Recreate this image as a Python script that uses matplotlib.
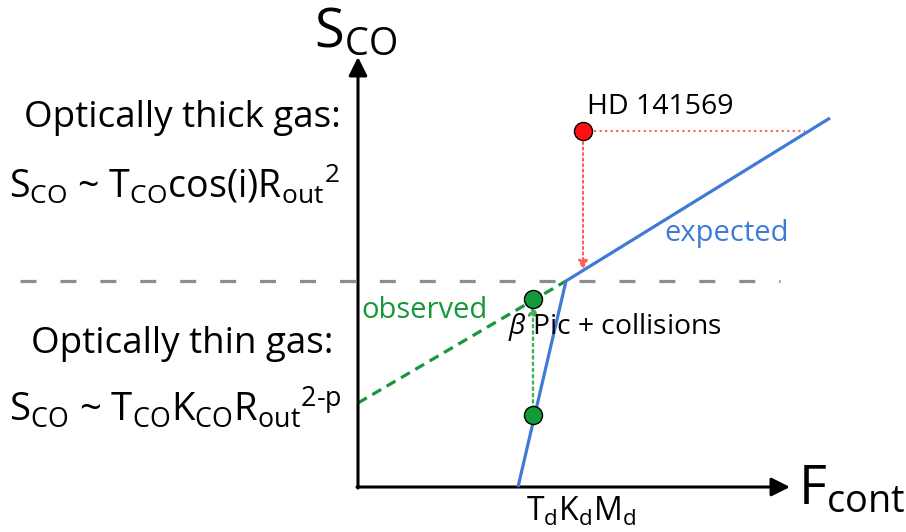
import matplotlib
matplotlib.use('Agg')
import matplotlib.pyplot as plt

plt.rcParams['font.family'] = ['Open Sans', 'DejaVu Sans']
plt.rcParams['mathtext.fontset'] = 'custom'
plt.rcParams['mathtext.rm'] = 'Open Sans'
plt.rcParams['mathtext.it'] = 'Open Sans:italic'

# schematic points in figure pixel units (x right, y down)
axis_origin = (358, 487)
x_axis_end = 790
y_axis_end = 57
threshold_y = 281
expected_x = [518, 566, 830]
expected_y = [487, 281, 118]
observed_x = [358, 566]
observed_y = [403, 281]
bpic_x = [533, 533]
bpic_y = [415, 299]
hd_x = 583
hd_y = 131
hd_proj_x = 805

blue = '#3f7bd6'
green = '#15973a'
red = '#ff5c5c'

fig = plt.figure(figsize=(9.06, 5.32), dpi=100)
ax = fig.add_axes([0, 0, 1, 1])
ax.set_xlim(0, 906)
ax.set_ylim(532, 0)
ax.axis('off')

# axes arrows
ax.annotate('', xy=(x_axis_end, axis_origin[1]), xytext=(axis_origin[0] - 1, axis_origin[1]),
            arrowprops=dict(arrowstyle='-|>', color='k', lw=2.2, mutation_scale=28,
                            shrinkA=0, shrinkB=0))
ax.annotate('', xy=(axis_origin[0], y_axis_end), xytext=(axis_origin[0], axis_origin[1] + 1),
            arrowprops=dict(arrowstyle='-|>', color='k', lw=2.2, mutation_scale=28,
                            shrinkA=0, shrinkB=0))

# thick/thin threshold
ax.plot([20, 780], [threshold_y, threshold_y], color='#8c8c8c', lw=2.3,
        linestyle=(0, (5.0, 7.5)), zorder=1)

# expected relation
ax.plot(expected_x, expected_y, color=blue, lw=2.3, zorder=3, solid_capstyle='butt')
# observed relation
ax.plot(observed_x, observed_y, color=green, lw=2.3, linestyle=(0, (3.2, 2.0)), zorder=2)

# beta Pic arrow
ax.annotate('', xy=(bpic_x[1], bpic_y[1] + 6), xytext=(bpic_x[0], bpic_y[0]),
            arrowprops=dict(arrowstyle='-|>', color='#3cb35a', lw=1.7, ls=':',
                            mutation_scale=14, shrinkA=0, shrinkB=0))
ax.plot(bpic_x, bpic_y, 'o', color='#119a37', mec='k', mew=1, ms=13, zorder=5)

# HD 141569
ax.plot([hd_x, hd_proj_x], [hd_y, hd_y], color=red, lw=1.5, ls=':', zorder=2)
ax.annotate('', xy=(hd_x, 270), xytext=(hd_x, hd_y),
            arrowprops=dict(arrowstyle='-|>', color=red, lw=1.5, ls=':',
                            mutation_scale=14, shrinkA=0, shrinkB=0))
ax.plot([hd_x], [hd_y], 'o', color='#ff1010', mec='k', mew=1, ms=13, zorder=5)

# labels
ax.text(314, 33, 'S$_{\\mathrm{CO}}$', fontsize=39, va='center', ha='left')
ax.text(798, 490, 'F$_{\\mathrm{cont}}$', fontsize=39, va='center', ha='left')
ax.text(526, 512, 'T$_{\\mathrm{d}}$K$_{\\mathrm{d}}$M$_{\\mathrm{d}}$', fontsize=23, va='center', ha='left')
ax.text(587, 107, 'HD 141569', fontsize=20.5, va='center', ha='left')
ax.text(664, 233, 'expected', fontsize=21, va='center', ha='left', color=blue)
ax.text(361, 311, 'observed', fontsize=21, va='center', ha='left', color=green)
ax.text(508, 327, '$\\beta$ Pic + collisions', fontsize=20.3, va='center', ha='left')

ax.text(24, 118, 'Optically thick gas:', fontsize=26.5, va='center', ha='left')
ax.text(9, 184, 'S$_{\\mathrm{CO}}$ ~ T$_{\\mathrm{CO}}$cos(i)R$_{\\mathrm{out}}$$^{\\mathrm{2}}$',
        fontsize=27, va='center', ha='left')
ax.text(31, 344, 'Optically thin gas:', fontsize=26.5, va='center', ha='left')
ax.text(9, 408, 'S$_{\\mathrm{CO}}$ ~ T$_{\\mathrm{CO}}$K$_{\\mathrm{CO}}$R$_{\\mathrm{out}}$$^{\\mathrm{2\\text{-}p}}$',
        fontsize=27.5, va='center', ha='left')

fig.savefig('out.png', dpi=100)
